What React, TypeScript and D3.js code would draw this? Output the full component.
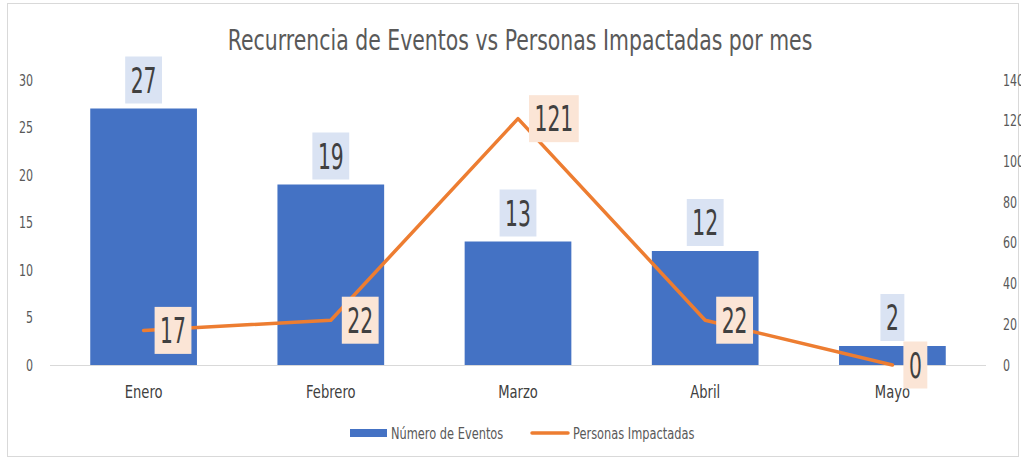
import React, { useEffect, useRef } from "react";
import * as d3 from "d3";

const months = ["Enero", "Febrero", "Marzo", "Abril", "Mayo"];
const eventos = [27, 19, 13, 12, 2];
const personas = [17, 22, 121, 22, 0];
const leftTicks = [0, 5, 10, 15, 20, 25, 30];
const rightTicks = [0, 20, 40, 60, 80, 100, 120, 140];
const title = "Recurrencia de Eventos vs Personas Impactadas por mes";
const seriesNames = ["Número de Eventos", "Personas Impactadas"];

const W = 1021;
const H = 459;
const FONT = "'DejaVu Sans', sans-serif";
const BLUE = "#4472C4";
const ORANGE = "#ED7D31";

type Sel = d3.Selection<any, any, any, any>;

function txt(p: Sel, x: number, y: number, s: string, size: number, sx: number, anchor: string, fill: string) {
  return p.append("text")
    .attr("transform", `translate(${x},${y}) scale(${sx},1)`)
    .attr("text-anchor", anchor)
    .attr("font-family", FONT)
    .attr("font-size", size)
    .attr("fill", fill)
    .text(s);
}

export default function App() {
  const ref = useRef<SVGSVGElement>(null);
  useEffect(() => {
    const svg = d3.select(ref.current);
    svg.selectAll("*").remove();
    const m = { left: 50, right: 35, top: 80, bottom: 94 };
    const x = d3.scaleBand().domain(months).range([m.left, W - m.right]).paddingInner(0.43).paddingOuter(0.215);
    const yL = d3.scaleLinear().domain([0, 30]).range([H - m.bottom, m.top]);
    const yR = d3.scaleLinear().domain([0, 140]).range([H - m.bottom, m.top]);

    svg.append("rect").attr("x", 7.5).attr("y", 3.5).attr("width", W - 10).attr("height", H - 6)
      .attr("fill", "#fff").attr("stroke", "#d9d9d9");

    txt(svg, 520, 50, title, 29, 0.705, "middle", "#595959");

    leftTicks.forEach(d => txt(svg, 33, yL(d) + 5.5, String(d), 15, 0.74, "end", "#595959"));
    rightTicks.forEach(d => txt(svg, 1003, yR(d) + 5.5, String(d), 15, 0.74, "start", "#595959"));

    svg.append("g").selectAll("rect").data(eventos).join("rect")
      .attr("x", (d, i) => x(months[i])!).attr("width", x.bandwidth())
      .attr("y", d => yL(d)).attr("height", d => yL(0) - yL(d)).attr("fill", BLUE);

    svg.append("line").attr("x1", m.left).attr("x2", W - m.right).attr("y1", yL(0) + 0.5).attr("y2", yL(0) + 0.5)
      .attr("stroke", "#d9d9d9").attr("stroke-width", 1);

    months.forEach(d => txt(svg, x(d)! + x.bandwidth() / 2, 398, d, 18, 0.73, "middle", "#404040"));

    const cx = (i: number) => x(months[i])! + x.bandwidth() / 2;
    const line = d3.line<number>().x((d, i) => cx(i)).y(d => yR(d));
    svg.append("path").datum(personas).attr("d", line).attr("fill", "none")
      .attr("stroke", ORANGE).attr("stroke-width", 3.5).attr("stroke-linejoin", "round").attr("stroke-linecap", "round");

    const addLabel = (cxv: number, cy: number, s: string, bg: string, anchor: "top" | "right") => {
      const g = svg.append("g");
      const r = g.append("rect").attr("fill", bg);
      const sx = 0.58;
      const t = txt(g, 0, 0, s, 35, sx, "middle", "#404040");
      const w = (t.node() as SVGTextElement).getComputedTextLength() * sx + 11;
      const h = 47;
      let bx: number, by: number;
      if (anchor === "top") { bx = cxv - w / 2; by = cy - 5 - h; }
      else { bx = cxv + 11; by = cy - h / 2; }
      r.attr("x", bx).attr("y", by).attr("width", w).attr("height", h);
      t.attr("transform", `translate(${bx + w / 2},${by + h / 2 + 12.5}) scale(${sx},1)`);
    };
    eventos.forEach((d, i) => addLabel(cx(i), yL(d), String(d), "#DAE3F3", "top"));
    personas.forEach((d, i) => addLabel(cx(i), yR(d), String(d), "#FBE5D6", "right"));

    const lg = svg.append("g");
    lg.append("rect").attr("x", 350).attr("y", 429).attr("width", 37).attr("height", 8).attr("fill", BLUE);
    txt(lg, 391, 439, seriesNames[0], 15, 0.76, "start", "#595959");
    lg.append("line").attr("x1", 532).attr("x2", 568).attr("y1", 433).attr("y2", 433)
      .attr("stroke", ORANGE).attr("stroke-width", 3.5).attr("stroke-linecap", "round");
    txt(lg, 573, 439, seriesNames[1], 15, 0.76, "start", "#595959");
  }, []);
  return (
    <svg ref={ref} width={W} height={H} style={{ position: "absolute", left: 0, top: 0 }} />
  );
}
